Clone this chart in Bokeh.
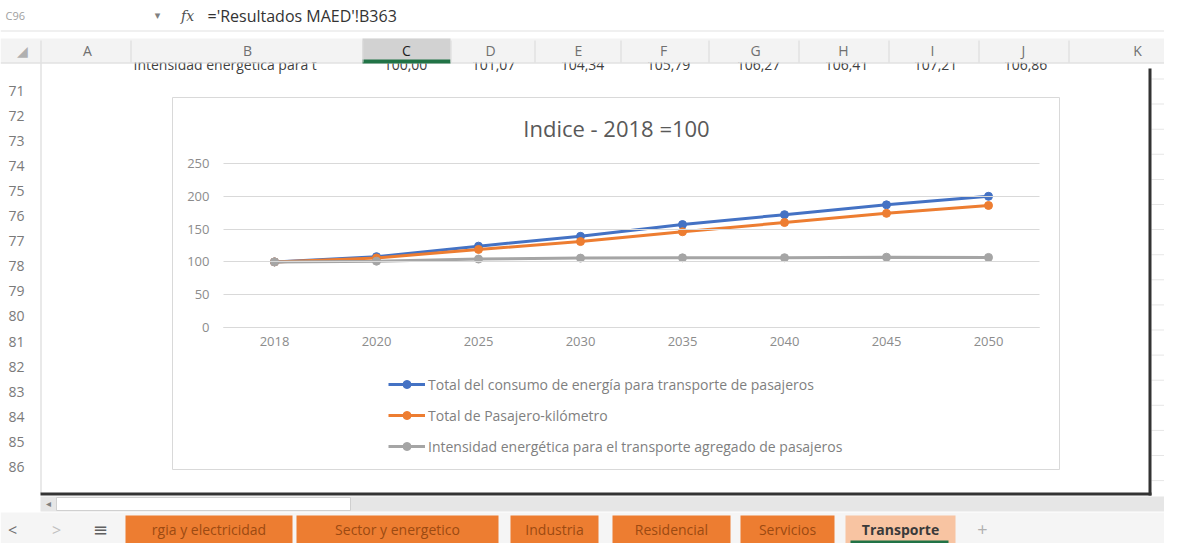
from bokeh.plotting import figure
from bokeh.models import (Range1d, FixedTicker, Legend, LegendItem, Label,
                          BoxAnnotation, ColumnDataSource)
from bokeh.embed import file_html
from bokeh.resources import INLINE

# ---------------- data ----------------
years = ["2018", "2020", "2025", "2030", "2035", "2040", "2045", "2050"]
energia = [100, 108, 124, 139, 157, 172, 187, 200]
pasajero_km = [100, 106, 119, 131, 146, 160, 174, 186]
intensidad = [100.00, 101.07, 104.34, 105.79, 106.27, 106.41, 107.21, 106.86]
series_names = [
    "Total del consumo de energía para transporte de pasajeros",
    "Total de Pasajero-kilómetro",
    "Intensidad energética para el transporte agregado de pasajeros",
]
series_colors = ["#4472C4", "#ED7D31", "#A5A5A5"]
y_ticks = [0, 50, 100, 150, 200, 250]
chart_title = "Indice - 2018 =100"
formula_text = "='Resultados MAED'!B363"
cell_ref = "C96"
row70_label = "Intensidad energética para t"
column_letters = ["A", "B", "C", "D", "E", "F", "G", "H", "I", "J", "K"]
row_numbers = list(range(71, 87))
sheet_tabs = ["rgia y electricidad", "Sector y energetico", "Industria",
              "Residencial", "Servicios", "Transporte"]

# ---------------- layout (canvas pixels) ----------------
W, H = 1164, 543
CB_L, CB_R, CB_T, CB_B = 172, 1059, 97, 469      # chart object box
FL, FR, FT, FB = 223, 1039, 163, 327              # plot area
YMAX = 250
NCAT = len(years)
UI_FONT = "Open Sans"
CH_FONT = "Open Sans"

# chart ranges extended so that the plot area lands on FL..FR / FT..FB
xpp = (FR - FL) / NCAT
ypp = (FB - FT) / YMAX
x_range = Range1d(-0.5 - FL / xpp, NCAT - 0.5 + (W - FR) / xpp)
y_range = Range1d(-(H - FB) / ypp, YMAX + FT / ypp)

p = figure(width=W, height=H, output_backend="svg", toolbar_location=None,
           x_range=x_range, y_range=y_range, min_border=0)
p.outline_line_color = None
p.background_fill_color = "white"
p.border_fill_color = "white"
p.grid.visible = False
p.extra_x_ranges = {"px": Range1d(0, W)}
p.extra_y_ranges = {"px": Range1d(H, 0)}

# x axis at y = 0, limited to the plot area
xax = p.xaxis[0]
xax.fixed_location = 0
xax.bounds = (-0.5, NCAT - 0.5)
xax.ticker = FixedTicker(ticks=list(range(NCAT)))
xax.major_label_overrides = {i: y for i, y in enumerate(years)}
xax.axis_line_color = "#D9D9D9"
xax.major_tick_line_color = None
xax.minor_tick_line_color = None
xax.major_label_standoff = 3
xax.major_label_text_font = CH_FONT
xax.major_label_text_font_size = "13px"
xax.major_label_text_color = "#8C8C8C"

# y axis at the left edge; its inward ticks act as the horizontal gridlines
yax = p.yaxis[0]
yax.fixed_location = -0.5
yax.bounds = (0, YMAX)
yax.ticker = FixedTicker(ticks=y_ticks)
yax.axis_line_color = None
yax.major_tick_in = FR - FL
yax.major_tick_out = 0
yax.major_tick_line_color = "#D9D9D9"
yax.major_tick_line_width = 1
yax.minor_tick_line_color = None
yax.major_label_standoff = 14
yax.major_label_text_font = CH_FONT
yax.major_label_text_font_size = "13px"
yax.major_label_text_color = "#8C8C8C"


def ui_box(l, t, r, b, fill=None, line=None, lw=1):
    p.add_layout(BoxAnnotation(
        left=l, right=r, top=t, bottom=b, x_range_name="px", y_range_name="px",
        fill_color=fill if fill else "white", fill_alpha=1 if fill else 0,
        line_color=line if line else "white", line_alpha=1 if line else 0,
        line_width=lw))


def ui_lab(x, y, text, size, color, align="left", style="normal", font=UI_FONT):
    p.add_layout(Label(x=x, y=y, text=text, x_range_name="px", y_range_name="px",
                       text_font_size=f"{size}px", text_color=color,
                       text_align=align, text_baseline="middle", text_font=font,
                       text_font_style=style))


# ---------------- spreadsheet surroundings ----------------
# row 70 (partly hidden under the header)
ui_lab(133, 64, row70_label, 14, "#404040")
value_x = [405, 493, 582, 668, 758, 846, 935, 1025]
for vx, v in zip(value_x, intensidad):
    ui_lab(vx, 64, f"{v:.2f}".replace(".", ","), 14, "#404040", align="center")

# formula bar
ui_lab(5, 15, cell_ref, 11, "#A0A0A0")
ui_lab(157, 15, "▾", 11, "#808080", align="center", font="DejaVu Sans")
ui_lab(187, 15, "fx", 14, "#505050", align="center", style="italic", font="DejaVu Serif")
ui_lab(207, 15, formula_text, 16, "#333333")
ui_box(0, 30, W, 31, fill="#E1E1E1")

# column header
ui_box(0, 38, W, 62, fill="#F3F3F3")
ui_box(0, 62, W, 63, fill="#D4D4D4")
ui_box(362, 38, 450, 62, fill="#D2D2D2")
ui_box(362, 59, 450, 63, fill="#217346")
col_x = [87, 247, 406, 490, 578, 663, 755, 843, 932, 1023, 1137]
col_edges = [40, 130, 362, 450, 534, 620, 708, 798, 888, 978, 1068]
for e in col_edges:
    ui_box(e, 40, e + 1, 62, fill="#DADADA")
for cx, letter in zip(col_x, column_letters):
    ui_lab(cx, 50, letter, 14, "#1E1E1E" if letter == "C" else "#707070", align="center")
ui_lab(22, 50, "◢", 14, "#B0B0B0", align="center", font="DejaVu Sans")

# row numbers
ui_box(40, 63, 41, 493, fill="#D4D4D4")
for i, rn in enumerate(row_numbers):
    ui_lab(8, 90 + i * 25.1, str(rn), 14, "#7A7A7A")

# faint cell lines right of the selection frame
for i in range(len(row_numbers) + 1):
    y = 78 + i * 25.1
    ui_box(1151, y, W, y + 1, fill="#E6E6E6")

# black selection frame
ui_box(40, 492, 1151, 495, fill="#333333")
ui_box(1148, 68, 1151, 495, fill="#333333")

# horizontal scrollbar
ui_box(40, 496, W, 511, fill="#E6E6E6")
ui_box(56, 497, 350, 510, fill="#FFFFFF", line="#D0D0D0")
ui_lab(48, 503, "◂", 10, "#808080", align="center", font="DejaVu Sans")

# sheet tabs
ui_box(0, 512, W, H, fill="#F5F5F5")
ui_lab(12, 529, "<", 16, "#707070", align="center")
ui_lab(56, 529, ">", 16, "#C0C0C0", align="center")
ui_lab(100, 529, "≡", 18, "#606060", align="center", font="DejaVu Sans")
tab_edges = [(125, 292), (296, 498), (510, 598), (612, 730), (740, 834), (845, 955)]
for (l, r), name in zip(tab_edges, sheet_tabs):
    sel = name == "Transporte"
    ui_box(l, 515, r, H, fill="#F8C4A2" if sel else "#ED7D31")
    ui_lab((l + r) / 2, 529, name, 14, "#3A3A3A" if sel else "#9C4A12",
           align="center", style="bold" if sel else "normal")
ui_box(850, 540, 948, H, fill="#217346")
ui_lab(982, 529, "+", 18, "#B0B0B0", align="center")

# ---------------- chart ----------------
ui_box(CB_L, CB_T, CB_R, CB_B, line="#D9D9D9")
ui_lab((CB_L + CB_R) / 2 + 0.5, 127, chart_title, 22, "#595959", align="center", font=CH_FONT)

xs = list(range(NCAT))
items = []
for name, vals, col in zip(series_names, [energia, pasajero_km, intensidad], series_colors):
    src = ColumnDataSource(dict(x=xs, y=vals))
    r1 = p.line("x", "y", source=src, line_color=col, line_width=3)
    r2 = p.scatter("x", "y", source=src, size=8, fill_color=col, line_color=col)
    items.append(LegendItem(label=name, renderers=[r1, r2]))

legend = Legend(items=items, location=(388, H - 456), orientation="vertical",
                border_line_color=None, background_fill_alpha=0, padding=0, margin=0,
                spacing=11, glyph_width=37, glyph_height=20, label_height=20,
                label_standoff=3, label_text_font=CH_FONT,
                label_text_font_size="14px", label_text_color="#7F7F7F")
p.add_layout(legend)

open("out.html", "w").write(file_html(p, INLINE))
